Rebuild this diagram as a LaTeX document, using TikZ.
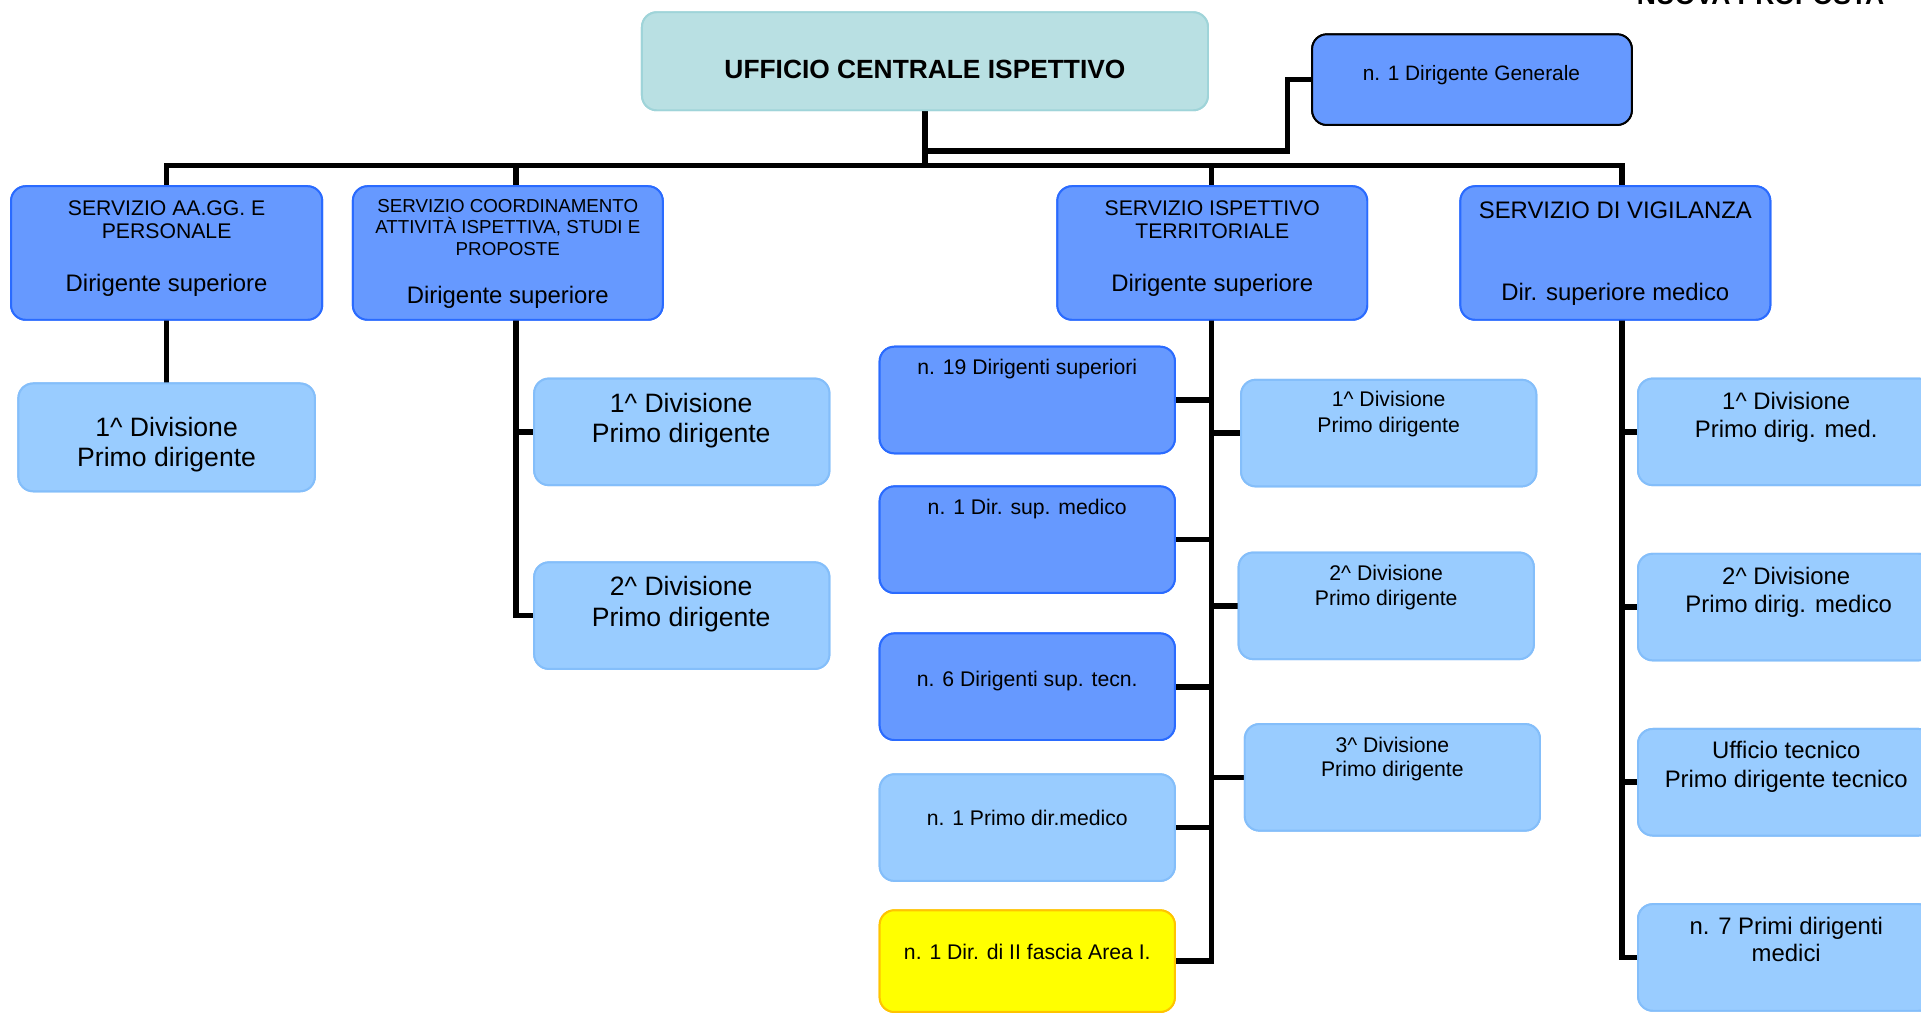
\documentclass[tikz,border=0pt]{standalone}
\usepackage{fontspec}
\setmainfont{Liberation Sans}
\definecolor{dkfill}{HTML}{6699FF}
\definecolor{dkline}{HTML}{2A6BFF}
\definecolor{ltfill}{HTML}{99CCFF}
\definecolor{ltline}{HTML}{84BEFA}
\definecolor{tlfill}{HTML}{B9E0E3}
\definecolor{tlline}{HTML}{9FD4D9}
\definecolor{ywfill}{HTML}{FFFF00}
\definecolor{ywline}{HTML}{FFC400}
\newcommand\ftS{\fontsize{15.3}{17.6}\selectfont}
\newcommand\ftM{\fontsize{17.3}{20}\selectfont}
\newcommand\ftL{\fontsize{19.5}{22.4}\selectfont}
\newcommand\ftX{\fontsize{21.7}{25}\selectfont}
\begin{document}
\begin{tikzpicture}[x=1pt,y=-1pt,
  box/.style={rounded corners=12pt, line width=1.6pt, inner sep=0pt, outer sep=0pt, anchor=north west},
  dk/.style={box, fill=dkfill, draw=dkline},
  lt/.style={box, fill=ltfill, draw=ltline},
  tl/.style={box, fill=tlfill, draw=tlline},
  yw/.style={box, fill=ywfill, draw=ywline},
  gen/.style={box, fill=dkfill, draw=black},
  conn/.style={line width=4.6pt, line cap=rect, draw=black},
  txt/.style={anchor=base, inner sep=0pt, text=black}]
\useasboundingbox (0,0) rectangle (1568,828);
\clip (0,0) rectangle (1568,828);
\fill[white] (0,0) rectangle (1568,828);

% junction coordinates
\coordinate (busL) at (136,135);
\coordinate (busR) at (1324,135);
\coordinate (j0) at (755,135);
\coordinate (j2) at (421,135);
\coordinate (j3) at (989,135);
\coordinate (j4) at (1324,135);
\coordinate (dgk) at (1051,123);

% boxes (positions only, drawn again on top of connectors)
\path
  node[tl, minimum width=462pt, minimum height=80pt] (uci) at (524,10) {}
  node[gen, minimum width=261pt, minimum height=74pt] (dg) at (1071,28) {}
  node[dk, minimum width=254pt, minimum height=109pt] (s1) at (9,152) {}
  node[dk, minimum width=253pt, minimum height=109pt] (s2) at (288,152) {}
  node[dk, minimum width=253pt, minimum height=109pt] (s3) at (863,152) {}
  node[dk, minimum width=253pt, minimum height=109pt] (s4) at (1192,152) {};

% connectors
\draw[conn] (busL) -- (busR);
\draw[conn] (uci.south) -- (j0);
\draw[conn] (uci.south |- dgk) -- (dgk) |- (dg.west);
\draw[conn] (busL) -- (s1.north);
\draw[conn] (j2) -- (j2 |- s2.north);
\draw[conn] (j3) -- (j3 |- s3.north);
\draw[conn] (j4) -- (j4 |- s4.north);

% redraw top boxes over connectors
\node[tl, minimum width=462pt, minimum height=80pt] (uci) at (524,10) {};
\node[gen, minimum width=261pt, minimum height=74pt] (dg) at (1071,28) {};

% child boxes
\node[lt, minimum width=242pt, minimum height=88pt] (d1) at (15,313) {};
\node[lt, minimum width=241pt, minimum height=87pt] (d2a) at (436,309) {};
\node[lt, minimum width=241pt, minimum height=87pt] (d2b) at (436,459) {};
\node[dk, minimum width=241pt, minimum height=87pt] (l1) at (718,283) {};
\node[dk, minimum width=241pt, minimum height=87pt] (l2) at (718,397) {};
\node[dk, minimum width=241pt, minimum height=87pt] (l3) at (718,517) {};
\node[lt, minimum width=241pt, minimum height=87pt] (l4) at (718,632) {};
\node[yw, minimum width=241pt, minimum height=83pt] (l5) at (718,743) {};
\node[lt, minimum width=241pt, minimum height=87pt] (r1) at (1013,310) {};
\node[lt, minimum width=241pt, minimum height=87pt] (r2) at (1011,451) {};
\node[lt, minimum width=241pt, minimum height=87pt] (r3) at (1016,591) {};
\node[lt, minimum width=241pt, minimum height=87pt] (v1) at (1337,309) {};
\node[lt, minimum width=241pt, minimum height=87pt] (v2) at (1337,452) {};
\node[lt, minimum width=241pt, minimum height=87pt] (v3) at (1337,595) {};
\node[lt, minimum width=241pt, minimum height=87pt] (v4) at (1337,738) {};

% lower connectors
\draw[conn] (s1.south) -- (d1.north);
\draw[conn] (j2 |- s2.south) |- (d2b.west);
\draw[conn] (j2 |- d2a.west) -- (d2a.west);
\draw[conn] (j3 |- s3.south) |- (l5.east);
\draw[conn] (l1.east) -- (l1.east -| j3);
\draw[conn] (l2.east) -- (l2.east -| j3);
\draw[conn] (l3.east) -- (l3.east -| j3);
\draw[conn] (l4.east) -- (l4.east -| j3);
\draw[conn] (j3 |- r1.west) -- (r1.west);
\draw[conn] (j3 |- r2.west) -- (r2.west);
\draw[conn] (j3 |- r3.west) -- (r3.west);
\draw[conn] (j4 |- s4.south) |- (v4.west);
\draw[conn] (j4 |- v1.west) -- (v1.west);
\draw[conn] (j4 |- v2.west) -- (v2.west);
\draw[conn] (j4 |- v3.west) -- (v3.west);

% redraw boxes on top of connector ends
\node[dk, minimum width=254pt, minimum height=109pt] at (9,152) {};
\node[dk, minimum width=253pt, minimum height=109pt] at (288,152) {};
\node[dk, minimum width=253pt, minimum height=109pt] at (863,152) {};
\node[dk, minimum width=253pt, minimum height=109pt] at (1192,152) {};
\node[lt, minimum width=242pt, minimum height=88pt] at (15,313) {};
\node[lt, minimum width=241pt, minimum height=87pt] at (436,309) {};
\node[lt, minimum width=241pt, minimum height=87pt] at (436,459) {};
\node[dk, minimum width=241pt, minimum height=87pt] at (718,283) {};
\node[dk, minimum width=241pt, minimum height=87pt] at (718,397) {};
\node[dk, minimum width=241pt, minimum height=87pt] at (718,517) {};
\node[lt, minimum width=241pt, minimum height=87pt] at (718,632) {};
\node[yw, minimum width=241pt, minimum height=83pt] at (718,743) {};
\node[lt, minimum width=241pt, minimum height=87pt] at (1013,310) {};
\node[lt, minimum width=241pt, minimum height=87pt] at (1011,451) {};
\node[lt, minimum width=241pt, minimum height=87pt] at (1016,591) {};
\node[lt, minimum width=241pt, minimum height=87pt] at (1337,309) {};
\node[lt, minimum width=241pt, minimum height=87pt] at (1337,452) {};
\node[lt, minimum width=241pt, minimum height=87pt] at (1337,595) {};
\node[lt, minimum width=241pt, minimum height=87pt] at (1337,738) {};

% texts
\node[txt, font=\fontsize{21.6}{25}\selectfont\bfseries] (np) at (1437,4) {NUOVA PROPOSTA};
\node[txt, font=\fontsize{21.5}{25}\selectfont\bfseries] (tuci) at (755,64) {UFFICIO CENTRALE ISPETTIVO};
\node[txt, font=\fontsize{17}{20}\selectfont] (tdg) at (1201,66) {n. 1 Dirigente Generale};

\node[txt, font=\ftM] (ts1a) at (136,176) {SERVIZIO AA.GG. E};
\node[txt, font=\ftM] (ts1b) at (136,195) {PERSONALE};
\node[txt, font=\ftL] (ts1c) at (136,238) {Dirigente superiore};

\node[txt, font=\ftS] (ts2a) at (414.5,173.5) {SERVIZIO COORDINAMENTO};
\node[txt, font=\ftS] (ts2b) at (414.5,190.5) {ATTIVITÀ ISPETTIVA, STUDI E};
\node[txt, font=\ftS] (ts2c) at (414.5,208.5) {PROPOSTE};
\node[txt, font=\ftL] (ts2d) at (414.5,248) {Dirigente superiore};

\node[txt, font=\ftM] (ts3a) at (989.5,176) {SERVIZIO ISPETTIVO};
\node[txt, font=\ftM] (ts3b) at (989.5,195) {TERRITORIALE};
\node[txt, font=\ftL] (ts3c) at (989.5,238) {Dirigente superiore};

\node[txt, font=\ftL] (ts4a) at (1318.5,178) {SERVIZIO DI VIGILANZA};
\node[txt, font=\ftL] (ts4b) at (1318.5,245) {Dir. superiore medico};

\node[txt, font=\ftX] (td1a) at (136,356) {1\^{} Divisione};
\node[txt, font=\ftX] (td1b) at (136,381) {Primo dirigente};
\node[txt, font=\ftX] (td2a) at (556,337) {1\^{} Divisione};
\node[txt, font=\ftX] (td2b) at (556,361) {Primo dirigente};
\node[txt, font=\ftX] (td2c) at (556,486) {2\^{} Divisione};
\node[txt, font=\ftX] (td2d) at (556,511) {Primo dirigente};

\node[txt, font=\ftM] (tl1) at (838.5,306) {n. 19 Dirigenti superiori};
\node[txt, font=\ftM] (tl2) at (838.5,420) {n. 1 Dir. sup. medico};
\node[txt, font=\ftM] (tl3) at (838.5,560) {n. 6 Dirigenti sup. tecn.};
\node[txt, font=\ftM] (tl4) at (838.5,674) {n. 1 Primo dir.medico};
\node[txt, font=\ftM] (tl5) at (838.5,783) {n. 1 Dir. di II fascia Area I.};

\node[txt, font=\ftM] (tr1a) at (1133.5,332) {1\^{} Divisione};
\node[txt, font=\ftM] (tr1b) at (1133.5,353) {Primo dirigente};
\node[txt, font=\ftM] (tr2a) at (1131.5,474) {2\^{} Divisione};
\node[txt, font=\ftM] (tr2b) at (1131.5,494) {Primo dirigente};
\node[txt, font=\ftM] (tr3a) at (1136.5,614) {3\^{} Divisione};
\node[txt, font=\ftM] (tr3b) at (1136.5,634) {Primo dirigente};

\node[txt, font=\ftL] (tv1a) at (1458,334) {1\^{} Divisione};
\node[txt, font=\ftL] (tv1b) at (1458,357) {Primo dirig. med.};
\node[txt, font=\ftL] (tv2a) at (1458,477) {2\^{} Divisione};
\node[txt, font=\ftL] (tv2b) at (1460,500) {Primo dirig. medico};
\node[txt, font=\ftL] (tv3a) at (1458,619) {Ufficio tecnico};
\node[txt, font=\ftL] (tv3b) at (1458,643) {Primo dirigente tecnico};
\node[txt, font=\ftL] (tv4a) at (1458,763) {n. 7 Primi dirigenti};
\node[txt, font=\ftL] (tv4b) at (1458,785) {medici};
\end{tikzpicture}
\end{document}
